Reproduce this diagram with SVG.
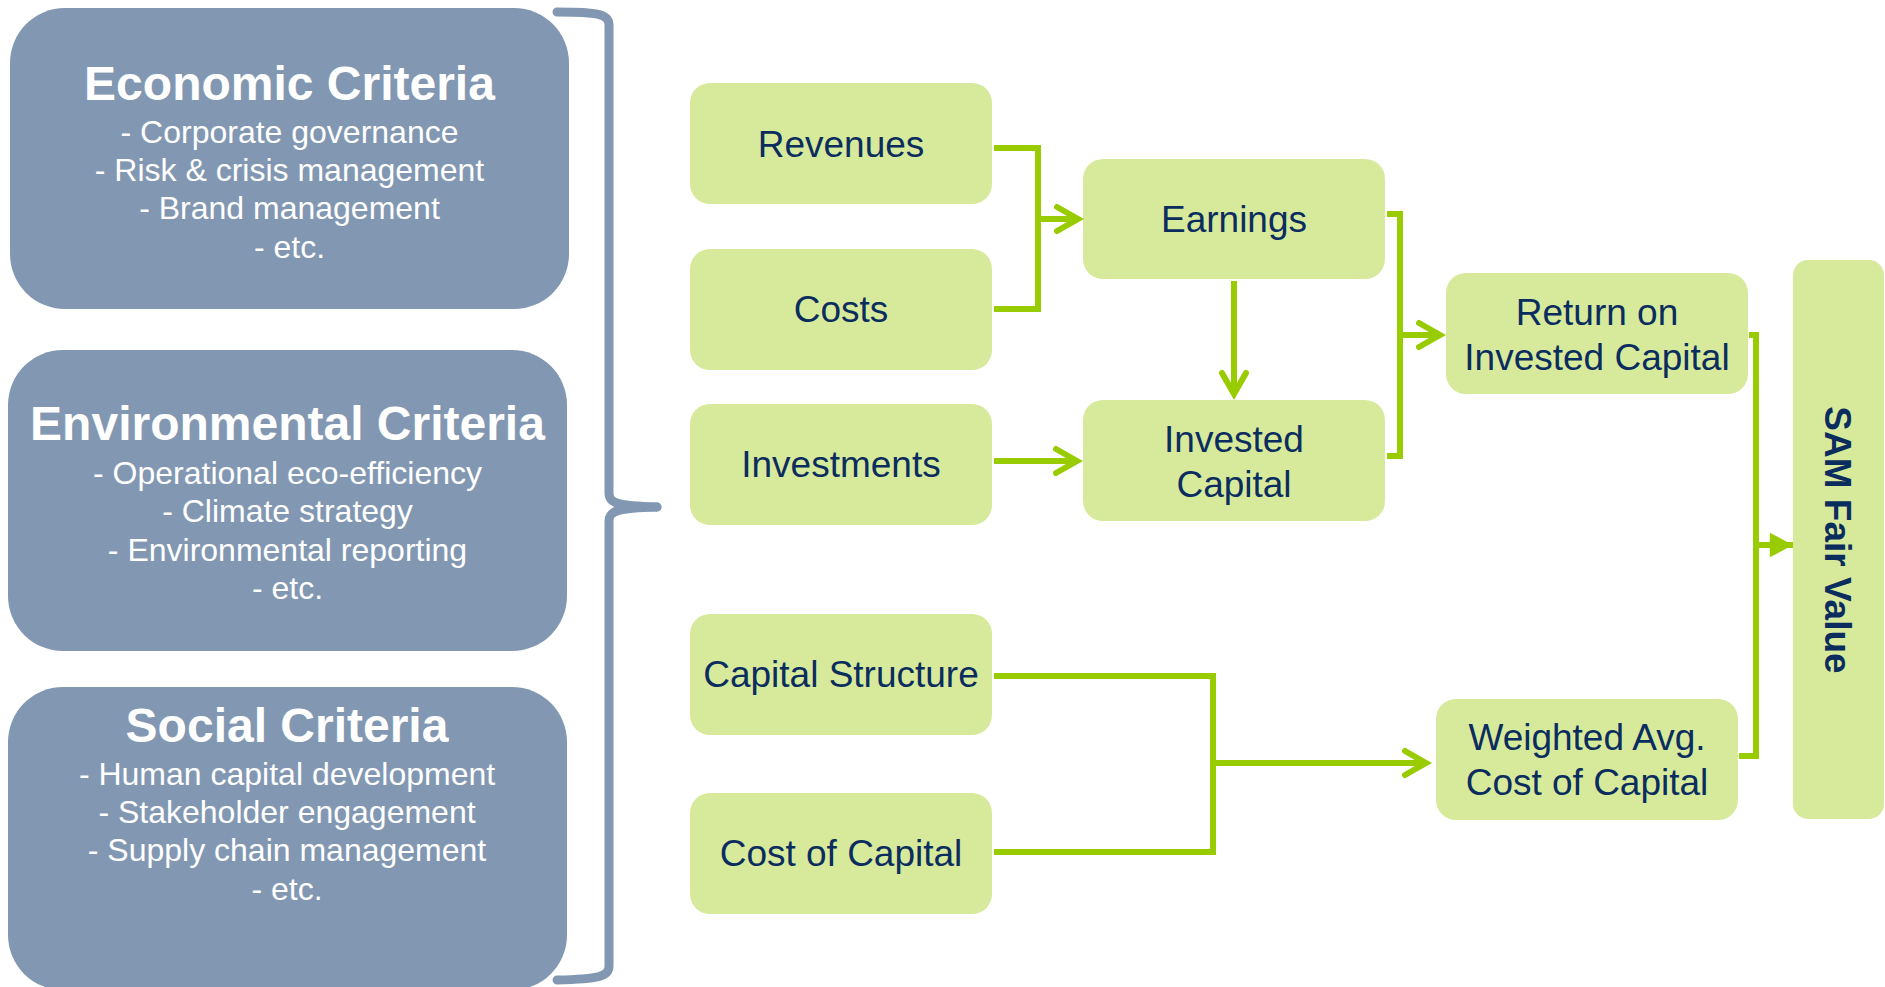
<svg xmlns="http://www.w3.org/2000/svg" width="1885" height="987" viewBox="0 0 1885 987">
  <style>
    .crit { fill: #8298B2; }
    .crit-title { font-family: "Liberation Sans", Arial, sans-serif; font-weight: bold; font-size: 48px; fill: #FFFFFF; text-anchor: middle; }
    .crit-item { font-family: "Liberation Sans", Arial, sans-serif; font-size: 32px; fill: #FFFFFF; text-anchor: middle; }
    .box { fill: #D7EA9C; }
    .label { font-family: "Liberation Sans", Arial, sans-serif; font-size: 37px; fill: #0B2D5E; text-anchor: middle; }
    .label-bold { font-family: "Liberation Sans", Arial, sans-serif; font-weight: bold; font-size: 37px; fill: #0B2D5E; text-anchor: middle; }
    .brace { fill: none; stroke: #8298B2; stroke-width: 9; stroke-linecap: round; stroke-linejoin: round; }
    .link { fill: none; stroke: #99CC00; stroke-width: 6; stroke-linejoin: miter; }
  </style>
  <defs>
    <marker id="chevron" markerUnits="userSpaceOnUse" markerWidth="40" markerHeight="40" viewBox="-30 -20 40 40" refX="0" refY="0" orient="auto" overflow="visible">
      <path d="M-21,-12 L0,0 L-21,12" fill="none" stroke="#99CC00" stroke-width="6" stroke-linecap="round" stroke-linejoin="miter"/>
    </marker>
    <marker id="tri" markerUnits="userSpaceOnUse" markerWidth="30" markerHeight="30" viewBox="-20 -10 22 20" refX="0" refY="0" orient="auto" overflow="visible">
      <path d="M-17,-9 L0,0 L-17,9 Z" fill="#99CC00"/>
    </marker>
  </defs>

  <rect width="1885" height="987" fill="#FFFFFF"/>

  <!-- ESG criteria panels -->
  <g id="economic">
    <rect class="crit" x="10" y="8" width="559" height="301" rx="55" ry="55"/>
    <text class="crit-title" x="289.5" y="100">Economic Criteria</text>
    <text class="crit-item" x="289.5" y="143">- Corporate governance</text>
    <text class="crit-item" x="289.5" y="181">- Risk &amp; crisis management</text>
    <text class="crit-item" x="289.5" y="219">- Brand management</text>
    <text class="crit-item" x="289.5" y="258">- etc.</text>
  </g>
  <g id="environmental">
    <rect class="crit" x="8" y="350" width="559" height="301" rx="55" ry="55"/>
    <text class="crit-title" x="287.5" y="440">Environmental Criteria</text>
    <text class="crit-item" x="287.5" y="484">- Operational eco-efficiency</text>
    <text class="crit-item" x="287.5" y="522">- Climate strategy</text>
    <text class="crit-item" x="287.5" y="561">- Environmental reporting</text>
    <text class="crit-item" x="287.5" y="599">- etc.</text>
  </g>
  <g id="social">
    <rect class="crit" x="8" y="687" width="559" height="303" rx="55" ry="55"/>
    <text class="crit-title" x="287" y="742">Social Criteria</text>
    <text class="crit-item" x="287" y="785">- Human capital development</text>
    <text class="crit-item" x="287" y="823">- Stakeholder engagement</text>
    <text class="crit-item" x="287" y="861">- Supply chain management</text>
    <text class="crit-item" x="287" y="900">- etc.</text>
  </g>

  <!-- curly brace grouping the criteria -->
  <g id="brace">
    <path class="brace" d="M557,12 C598,12 609,14 609,25 L609,493 C609,503 617,506 657,507"/>
    <path class="brace" d="M657,507 C617,508 609,511 609,521 L609,966 C609,977 598,979 557,980"/>
  </g>

  <!-- value driver nodes -->
  <g id="revenues">
    <rect class="box" x="690" y="83" width="302" height="121" rx="20"/>
    <text class="label" x="841" y="157">Revenues</text>
  </g>
  <g id="costs">
    <rect class="box" x="690" y="249" width="302" height="121" rx="20"/>
    <text class="label" x="841" y="322">Costs</text>
  </g>
  <g id="investments">
    <rect class="box" x="690" y="404" width="302" height="121" rx="20"/>
    <text class="label" x="841" y="477">Investments</text>
  </g>
  <g id="capital-structure">
    <rect class="box" x="690" y="614" width="302" height="121" rx="20"/>
    <text class="label" x="841" y="687">Capital Structure</text>
  </g>
  <g id="cost-of-capital">
    <rect class="box" x="690" y="793" width="302" height="121" rx="20"/>
    <text class="label" x="841" y="866">Cost of Capital</text>
  </g>
  <g id="earnings">
    <rect class="box" x="1083" y="159" width="302" height="120" rx="20"/>
    <text class="label" x="1234" y="232">Earnings</text>
  </g>
  <g id="invested-capital">
    <rect class="box" x="1083" y="400" width="302" height="121" rx="20"/>
    <text class="label" x="1234" y="452">Invested</text>
    <text class="label" x="1234" y="497">Capital</text>
  </g>
  <g id="roic">
    <rect class="box" x="1446" y="273" width="302" height="121" rx="20"/>
    <text class="label" x="1597" y="325">Return on</text>
    <text class="label" x="1597" y="370">Invested Capital</text>
  </g>
  <g id="wacc">
    <rect class="box" x="1436" y="699" width="302" height="121" rx="20"/>
    <text class="label" x="1587" y="750">Weighted Avg.</text>
    <text class="label" x="1587" y="795">Cost of Capital</text>
  </g>
  <g id="sam-fair-value">
    <rect class="box" x="1793" y="260" width="91" height="559" rx="15"/>
    <text class="label-bold" transform="translate(1825,540) rotate(90)">SAM Fair Value</text>
  </g>

  <!-- connectors -->
  <g id="connectors">
    <path class="link" d="M994,148 H1038 V219"/>
    <path class="link" d="M994,309 H1038 V219"/>
    <path class="link" d="M1038,219 H1078" marker-end="url(#chevron)"/>
    <path class="link" d="M1234,281 V394" marker-end="url(#chevron)"/>
    <path class="link" d="M994,461 H1077" marker-end="url(#chevron)"/>
    <path class="link" d="M1387,214 H1400 V456 H1387"/>
    <path class="link" d="M1400,335 H1440" marker-end="url(#chevron)"/>
    <path class="link" d="M994,676 H1213 V852 H994"/>
    <path class="link" d="M1213,763 H1426" marker-end="url(#chevron)"/>
    <path class="link" d="M1749,335 H1756 V756 H1739"/>
    <path class="link" d="M1756,545 H1793" marker-end="url(#tri)"/>
  </g>
</svg>
